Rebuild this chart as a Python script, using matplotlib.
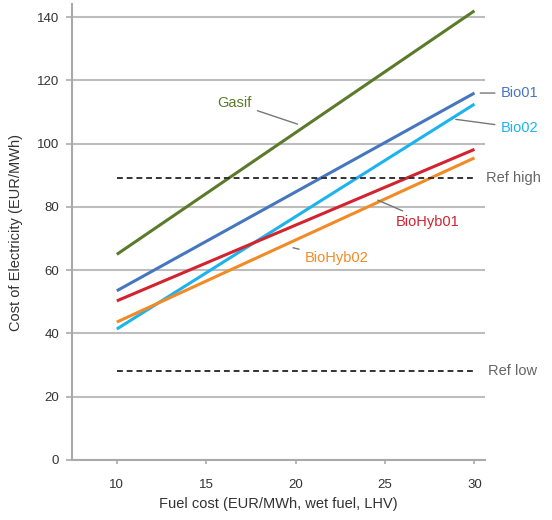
import matplotlib.pyplot as plt

plt.rcParams["font.family"] = ["Liberation Sans", "DejaVu Sans"]

# data
fuel_cost = [10, 30]
gasif = [65, 142]
bio01 = [53.5, 116]
bio02 = [41.4, 112.5]
biohyb01 = [50.3, 98.2]
biohyb02 = [43.6, 95.5]
ref_high = [89, 89]
ref_low = [28, 28]

COLORS = {
    "gasif": "#5B7B2B",
    "bio01": "#4677BE",
    "bio02": "#1CB3EE",
    "biohyb01": "#D2232E",
    "biohyb02": "#F28A25",
    "ref": "#333333",
    "label_ref": "#666666",
    "grid": "#BDBDBD",
    "text": "#333333",
}

fig = plt.figure(figsize=(5.52, 5.2), dpi=100)
ax = fig.add_axes([0.130, 0.1154, 0.749, 0.876])

series = [
    (gasif, COLORS["gasif"]),
    (bio01, COLORS["bio01"]),
    (bio02, COLORS["bio02"]),
    (biohyb01, COLORS["biohyb01"]),
    (biohyb02, COLORS["biohyb02"]),
]
for vals, c in series:
    ax.plot(fuel_cost, vals, color=c, lw=2.2, solid_capstyle="butt", zorder=3)

for vals in (ref_high, ref_low):
    ax.plot(fuel_cost, vals, color=COLORS["ref"], lw=1.4, dashes=(3, 2), zorder=3)

ax.set_xlim(7.48, 30.6)
ax.set_ylim(0, 144)
ax.set_xticks([10, 15, 20, 25, 30])
ax.set_yticks(range(0, 141, 20))
ax.yaxis.grid(True, color=COLORS["grid"], lw=1.5)
ax.set_axisbelow(True)

for s in ("top", "right"):
    ax.spines[s].set_visible(False)
for s in ("left", "bottom"):
    ax.spines[s].set_color("#AAAAAA")
    ax.spines[s].set_linewidth(1.5)
ax.tick_params(axis="both", colors="#AAAAAA", labelcolor=COLORS["text"],
               labelsize=9.5, length=4, width=1.2)
ax.tick_params(axis="x", length=3, pad=11)
ax.tick_params(axis="y", pad=5)

ax.set_xlabel("Fuel cost (EUR/MWh, wet fuel, LHV)", fontsize=10.5,
              color=COLORS["text"], labelpad=4)
ax.set_ylabel("Cost of Electricity (EUR/MWh)", fontsize=10.5,
              color=COLORS["text"], labelpad=10)

# labels with leader lines
lead = dict(arrowstyle="-", color="#777777", lw=1.0)
labels = [
    ("Gasif", COLORS["gasif"], (20.25, 105.9), (16.6, 112.8), "center"),
    ("Bio01", COLORS["bio01"], (30.17, 116.0), (31.45, 116.0), "left"),
    ("Bio02", COLORS["bio02"], (28.8, 107.8), (31.45, 105.0), "left"),
    ("BioHyb01", COLORS["biohyb01"], (24.45, 82.5), (25.6, 75.3), "left"),
    ("BioHyb02", COLORS["biohyb02"], (19.7, 67.3), (20.5, 63.8), "left"),
]
for txt, c, xy, xytext, ha in labels:
    ax.annotate(txt, xy=xy, xytext=xytext, ha=ha, va="center",
                fontsize=10.5, color=c, annotation_clip=False,
                arrowprops=lead)

ax.text(30.65, 89, "Ref high", ha="left", va="center", fontsize=10.5,
        color=COLORS["label_ref"], clip_on=False)
ax.text(30.75, 28, "Ref low", ha="left", va="center", fontsize=10.5,
        color=COLORS["label_ref"], clip_on=False)

fig.savefig("out.png", dpi=100)
